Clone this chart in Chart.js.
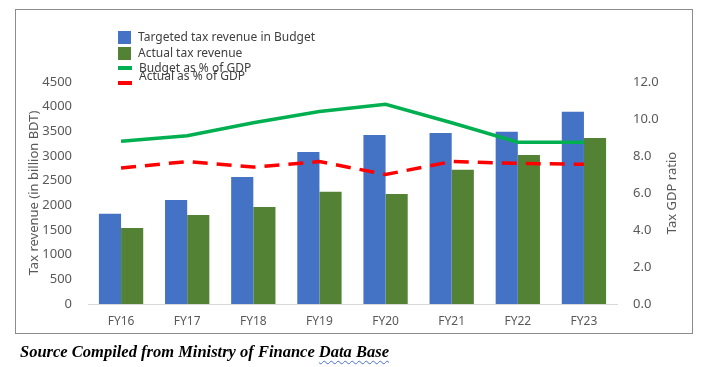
<!DOCTYPE html>
<html lang="en">
<head>
  <meta charset="UTF-8" />
  <title>Tax revenue and Tax GDP ratio</title>
  <style>
    * { box-sizing: border-box; margin: 0; padding: 0; }

    body {
      width: 720px;
      height: 367px;
      background: #fff;
      position: relative;
      overflow: hidden;
      font-family: 'Noto Sans', sans-serif;
    }

    #frame {
      position: absolute;
      left: 15px;
      top: 9px;
      width: 678px;
      height: 325px;
      border: 1px solid #8c8c8c;
    }

    #taxChart {
      position: absolute;
      left: 0;
      top: 0;
    }

    #legend {
      position: absolute;
      left: 118px;
      top: 29px;
      font-size: 12px;
      color: #404040;
      line-height: 16px;
    }

    #legend .item {
      position: relative;
      height: 15.5px;
      white-space: nowrap;
    }

    #legend .mark {
      display: inline-block;
      vertical-align: middle;
      margin-right: 7px;
    }

    #legend .item.overlap span.txt {
      position: relative;
      top: -8px;
    }

    #source {
      position: absolute;
      left: 20px;
      top: 342px;
      font-family: 'Liberation Serif', serif;
      font-weight: bold;
      font-style: italic;
      font-size: 16.5px;
      color: #000;
    }

    #source u {
      text-decoration: underline wavy #4a6fd0 1px;
      text-underline-offset: 3px;
    }
  </style>
</head>
<body>
  <div id="frame"></div>
  <canvas id="taxChart" width="720" height="367"></canvas>
  <div id="legend"></div>
  <div id="source">Source Compiled from Ministry of Finance <u>Data Base</u></div>

  <script src="https://cdn.jsdelivr.net/npm/chart.js"></script>
  <script>
    const years = ['FY16', 'FY17', 'FY18', 'FY19', 'FY20', 'FY21', 'FY22', 'FY23'];
    const targetedRevenue = [1830, 2110, 2575, 3080, 3425, 3465, 3490, 3895];
    const actualRevenue = [1540, 1805, 1965, 2275, 2230, 2720, 3020, 3365];
    const budgetPctGdp = [8.8, 9.1, 9.8, 10.4, 10.8, 9.8, 8.75, 8.75];
    const actualPctGdp = [7.35, 7.7, 7.4, 7.7, 7.0, 7.7, 7.6, 7.55];

    const tickColor = '#595959';

    // right axis title reads bottom-to-top, so draw it ourselves
    const rightTitle = {
      id: 'rightTitle',
      afterDraw(chart) {
        const s = chart.scales.y1;
        const c = chart.ctx;
        c.save();
        c.translate(s.right - 18, (s.top + s.bottom) / 2);
        c.rotate(-Math.PI / 2);
        c.fillStyle = tickColor;
        c.font = '13px "Noto Sans"';
        c.textAlign = 'center';
        c.textBaseline = 'middle';
        c.fillText('Tax GDP ratio', 0, 0);
        c.restore();
      }
    };

    const ctx = document.getElementById('taxChart').getContext('2d');
    const taxChart = new Chart(ctx, {
      type: 'bar',
      data: {
        labels: years,
        datasets: [
          {
            label: 'Targeted tax revenue in Budget',
            data: targetedRevenue,
            backgroundColor: '#4472C4',
            yAxisID: 'y',
            order: 2
          },
          {
            label: 'Actual tax revenue',
            data: actualRevenue,
            backgroundColor: '#548235',
            yAxisID: 'y',
            order: 2
          },
          {
            type: 'line',
            label: 'Budget as % of GDP',
            data: budgetPctGdp,
            borderColor: '#00B050',
            backgroundColor: '#00B050',
            borderWidth: 3.5,
            pointRadius: 0,
            tension: 0,
            yAxisID: 'y1',
            order: 1
          },
          {
            type: 'line',
            label: 'Actual as % of GDP',
            data: actualPctGdp,
            borderColor: '#FF0000',
            backgroundColor: '#FF0000',
            borderWidth: 3.5,
            borderDash: [15, 9],
            pointRadius: 0,
            tension: 0,
            yAxisID: 'y1',
            order: 1
          }
        ]
      },
      options: {
        responsive: false,
        animation: false,
        layout: { padding: { left: 20, right: 30, top: 82, bottom: 33 } },
        plugins: {
          legend: { display: false },
          tooltip: { enabled: false }
        },
        datasets: {
          bar: { categoryPercentage: 0.67, barPercentage: 1.0 }
        },
        scales: {
          x: {
            grid: { display: true, drawOnChartArea: false, drawTicks: false },
            border: { display: true, color: '#d9d9d9', width: 1 },
            ticks: { color: tickColor, font: { family: 'Noto Sans', size: 12 }, padding: 10 },
            afterFit: s => { s.height = 30; }
          },
          y: {
            position: 'left',
            min: 0,
            max: 4500,
            grid: { display: false },
            border: { display: false },
            ticks: {
              stepSize: 500,
              color: tickColor,
              font: { family: 'Noto Sans', size: 13 },
              padding: 8,
              callback: v => String(v)
            },
            title: {
              display: true,
              text: 'Tax revenue (in billion BDT)',
              color: tickColor,
              font: { family: 'Noto Sans', size: 13 },
              padding: { top: 6, bottom: 0 }
            },
            afterFit: s => { s.width = 68; }
          },
          y1: {
            position: 'right',
            min: 0,
            max: 12,
            grid: { display: false },
            border: { display: false },
            ticks: {
              stepSize: 2,
              color: tickColor,
              font: { family: 'Noto Sans', size: 13 },
              padding: 8,
              callback: v => v.toFixed(1)
            },
            afterFit: s => { s.width = 73; }
          }
        }
      },
      plugins: [rightTitle]
    });

    // html legend, built from the datasets
    const legendEl = document.getElementById('legend');
    taxChart.data.datasets.forEach((ds, i) => {
      const row = document.createElement('div');
      row.className = 'item' + (i === 3 ? ' overlap' : '');
      const mark = document.createElement('span');
      mark.className = 'mark';
      if (ds.type === 'line') {
        mark.style.width = '14px';
        mark.style.height = '4px';
        mark.style.marginTop = '-2px';
      } else {
        mark.style.width = '13px';
        mark.style.height = '13px';
      }
      mark.style.background = ds.borderColor || ds.backgroundColor;
      const txt = document.createElement('span');
      txt.className = 'txt';
      txt.textContent = ds.label;
      row.appendChild(mark);
      row.appendChild(txt);
      legendEl.appendChild(row);
    });
  </script>
</body>
</html>
